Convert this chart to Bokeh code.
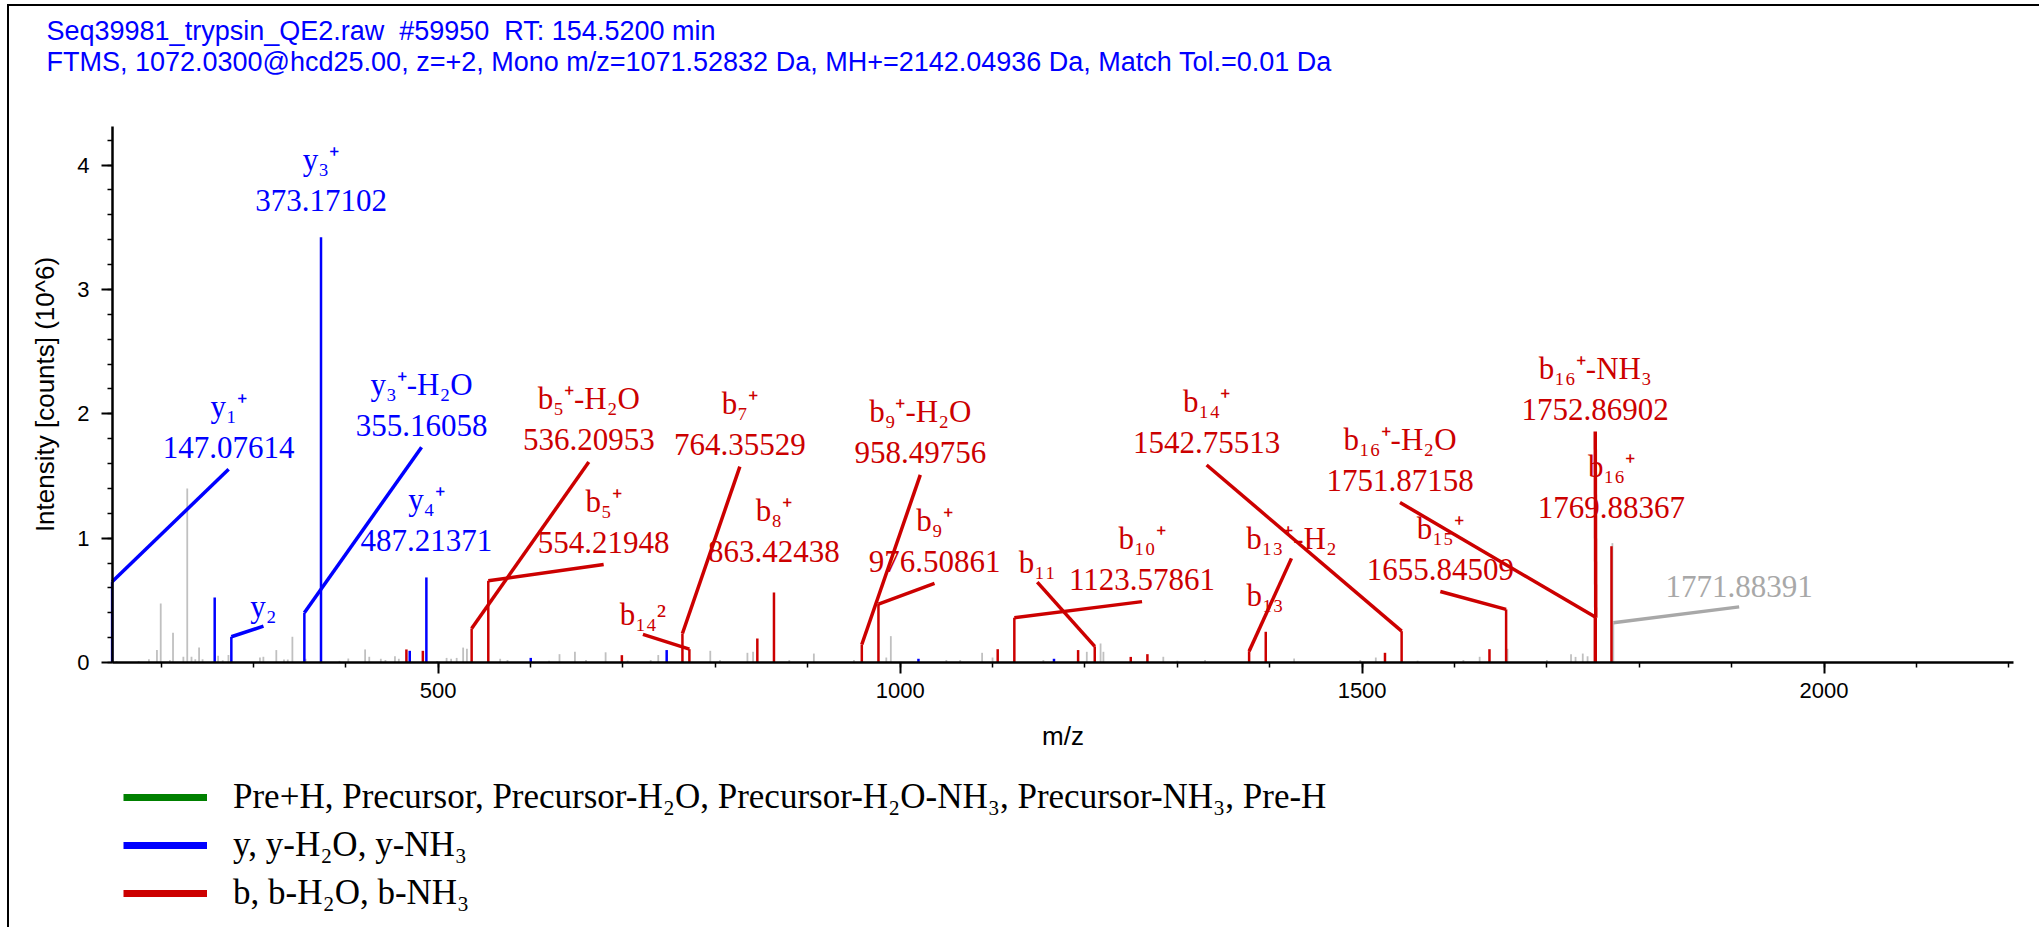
from bokeh.plotting import figure
from bokeh.models import (ColumnDataSource, Label, Legend, LegendItem,
                          SingleIntervalTicker)
from bokeh.core.properties import value
from bokeh.embed import file_html
from bokeh.resources import INLINE

# ---------------- data (intensity in 10^6 counts) ----------------
title_line1 = "Seq39981_trypsin_QE2.raw\u00a0 #59950\u00a0 RT: 154.5200 min"
title_line2 = ("FTMS, 1072.0300@hcd25.00, z=+2, Mono m/z=1071.52832 Da, "
               "MH+=2142.04936 Da, Match Tol.=0.01 Da")

gray_mz = [151.9, 175.8, 186.9, 195.6, 199.7, 209.6, 213.0, 224.2, 228.4, 233.0,
           237.1, 241.2, 245.0, 261.8, 266.8, 273.0, 307.1, 310.8, 324.8, 333.1,
           337.2, 342.2, 356.5, 393.2, 402.7, 420.9, 425.4, 437.9, 442.9, 453.2,
           457.4, 498.8, 509.1, 514.0, 520.0, 527.0, 531.1, 567.1, 575.0, 620.0,
           631.3, 648.0, 660.0, 681.2, 705.0, 730.0, 738.2, 794.5, 805.0, 834.7,
           840.8, 880.0, 906.6, 950.0, 985.0, 989.9, 1050.0, 1065.0, 1088.7, 1100.0,
           1155.0, 1202.0, 1216.9, 1220.0, 1284.8, 1300.0, 1330.0, 1426.4, 1498.0,
           1514.8, 1560.0, 1609.6, 1627.2, 1657.3, 1700.0, 1726.1, 1731.0, 1738.8,
           1744.0, 1770.88, 1771.88391]
gray_int = [0.013, 0.013, 0.027, 0.10, 0.475, 0.02, 0.24, 0.046, 1.40, 0.046,
            0.027, 0.12, 0.027, 0.054, 0.019, 0.06, 0.04, 0.046, 0.10, 0.024,
            0.024, 0.207, 0.03, 0.013, 0.032, 0.105, 0.046, 0.03, 0.02, 0.05,
            0.03, 0.013, 0.037, 0.03, 0.037, 0.12, 0.11, 0.03, 0.02, 0.015,
            0.067, 0.086, 0.02, 0.082, 0.015, 0.02, 0.06, 0.094, 0.02, 0.078,
            0.086, 0.02, 0.072, 0.02, 0.04, 0.212, 0.02, 0.02, 0.078, 0.04,
            0.02, 0.086, 0.153, 0.086, 0.046, 0.015, 0.02, 0.032, 0.02,
            0.04, 0.015, 0.02, 0.046, 0.11, 0.02, 0.067, 0.045, 0.072,
            0.05, 0.96, 0.319]

y_mz = [147.07614, 258.11, 276.12, 355.16058, 373.17102, 469.20, 487.21371,
        600.2, 747.3, 1019.8, 1166.5]
y_int = [0.65, 0.523, 0.207, 0.40, 3.42, 0.094, 0.684, 0.037, 0.10, 0.03, 0.03]

b_mz = [465.6, 483.4, 536.20953, 554.21948, 698.8, 764.35529, 771.88, 845.41,
        863.42438, 958.49756, 976.50861, 1105.57, 1123.57861, 1192.60, 1210.61,
        1249.6, 1267.6, 1377.68, 1395.69, 1524.74, 1542.75513, 1637.83,
        1655.84509, 1751.87158, 1752.86902, 1769.88367]
b_int = [0.105, 0.094, 0.274, 0.657, 0.059, 0.233, 0.107, 0.193,
         0.563, 0.145, 0.47, 0.107, 0.36, 0.10, 0.13,
         0.045, 0.067, 0.091, 0.247, 0.078, 0.252, 0.107,
         0.427, 0.367, 0.36, 0.935]

# annotations: first line, second line, annotated peak m/z
ann_text1 = ["y₁⁺", "y₃⁺", "y₃⁺-H₂O", "y₄⁺", "y₂", "b₅⁺-H₂O", "b₅⁺", "b₁₄²",
             "b₇⁺", "b₈⁺", "b₉⁺-H₂O", "b₉⁺", "b₁₁", "b₁₀⁺", "b₁₄⁺", "b₁₃⁺-H₂",
             "b₁₃", "b₁₅⁺", "b₁₆⁺-H₂O", "b₁₆⁺-NH₃", "b₁₆⁺", "1771.88391"]
ann_text2 = ["147.07614", "373.17102", "355.16058", "487.21371", "", "536.20953",
             "554.21948", "", "764.35529", "863.42438", "958.49756", "976.50861",
             "", "1123.57861", "1542.75513", "", "", "1655.84509", "1751.87158",
             "1752.86902", "1769.88367", ""]
ann_peak = [147.07614, 373.17102, 355.16058, 487.21371, 276.12, 536.20953,
            554.21948, 771.88, 764.35529, 863.42438, 958.49756, 976.50861,
            1210.61, 1123.57861, 1542.75513, 1377.68, 1395.69, 1655.84509,
            1751.87158, 1752.86902, 1769.88367, 1771.88391]
ann_leader = [1, 0, 1, 0, 1, 1, 1, 1, 1, 0, 1, 1, 1, 1, 1, 1, 0, 1, 1, 1, 0, 1]

legend_labels = ["Pre+H, Precursor, Precursor-H₂O, Precursor-H₂O-NH₃, Precursor-NH₃, Pre-H",
                 "y, y-H₂O, y-NH₃",
                 "b, b-H₂O, b-NH₃"]

# layout of the annotation labels (centre of first text line, data units)
label_x = [273.2, 373.17, 482.0, 487.2, 310.9, 663.0, 679.1, 721.6, 826.5, 863.4,
           1021.8, 1037.2, 1148.4, 1261.8, 1331.7, 1423.5, 1395.0, 1584.6, 1541.0,
           1752.3, 1769.9, 1908.1]
label_y = [2.06, 4.047, 2.238, 1.309, 0.453, 2.119, 1.295, 0.387, 2.082, 1.223,
           2.015, 1.143, 0.807, 0.996, 2.095, 0.998, 0.542, 1.078, 1.793, 2.364,
           1.573, 0.608]

# ---------------- styles / layout ----------------
BLUE = "#0000FF"
RED = "#CC0000"
GREEN = "#008000"
GRAY = "#C0C0C0"
GRAY_TXT = "#A8A8A8"
SERIF = "Liberation Serif"
SANS = "Liberation Sans"

AX_X0, AX_X1 = 147.5, 2205.0     # extent of the x axis (m/z)
AX_Y0, AX_Y1 = 0.0, 4.31         # extent of the y axis (10^6 counts)

W, H = 2032, 923                 # canvas size
OX, OY = 9, 6                    # canvas origin on the page
PLOT_L, PLOT_R, PLOT_T, PLOT_B = 112, 2013, 126, 662   # axis box on the page
KX = (PLOT_R - PLOT_L) / (AX_X1 - AX_X0)
KY = (PLOT_B - PLOT_T) / (AX_Y1 - AX_Y0)
x_start = AX_X0 - (PLOT_L - OX) / KX
x_end = AX_X0 + (OX + W - PLOT_L) / KX
y_end = AX_Y0 + (PLOT_B - OY) / KY
y_start = AX_Y0 - (OY + H - PLOT_B) / KY

p = figure(width=W, height=H, x_range=(x_start, x_end), y_range=(y_start, y_end),
           output_backend="svg", toolbar_location=None,
           min_border_left=0, min_border_right=0,
           min_border_top=0, min_border_bottom=0)
p.outline_line_color = None
p.xgrid.visible = False
p.ygrid.visible = False
p.background_fill_color = "white"
p.border_fill_color = "white"
p.styles = {"border-left": "2px solid #000", "border-top": "2px solid #000",
            "margin-left": "7px", "margin-top": "4px"}

# axes, fixed at the data origin and bounded to the axis box
p.xaxis.ticker = SingleIntervalTicker(interval=500, num_minor_ticks=5)
p.yaxis.ticker = SingleIntervalTicker(interval=1, num_minor_ticks=5)
p.xaxis.fixed_location = AX_Y0
p.yaxis.fixed_location = AX_X0
p.xaxis.bounds = (AX_X0, AX_X1)
p.yaxis.bounds = (AX_Y0, AX_Y1)
p.xaxis.axis_label = "m/z"
p.yaxis.axis_label = "Intensity [counts] (10^6)"
for ax in (p.xaxis[0], p.yaxis[0]):
    ax.axis_line_width = 2.5
    ax.axis_line_color = "black"
    ax.major_tick_line_width = 2
    ax.minor_tick_line_width = 1.5
    ax.major_tick_out = 11
    ax.major_tick_in = 0
    ax.minor_tick_out = 5
    ax.minor_tick_in = 0
    ax.major_label_text_font = SANS
    ax.major_label_text_font_size = "22px"
    ax.major_label_text_color = "black"
    ax.axis_label_text_font = SANS
    ax.axis_label_text_font_size = "26px"
    ax.axis_label_text_font_style = "normal"
    ax.axis_label_text_color = "black"
p.xaxis.major_label_standoff = 9
p.xaxis.axis_label_standoff = 20
p.yaxis.major_label_standoff = 12
p.yaxis.axis_label_standoff = 14

# title (two lines, upper left)
tx = AX_X0 + (46 - PLOT_L) / KX
for txt, ty_px in ((title_line1, 30), (title_line2, 61)):
    p.add_layout(Label(x=tx, y=AX_Y0 + (PLOT_B - ty_px) / KY, text=txt,
                       text_font=SANS, text_font_size="27px", text_color=BLUE,
                       text_align="left", text_baseline="middle"))

# peaks
p.segment(x0=gray_mz, y0=[0] * len(gray_mz), x1=gray_mz, y1=gray_int,
          line_color=GRAY, line_width=1.8)
p.segment(x0=y_mz, y0=[0] * len(y_mz), x1=y_mz, y1=y_int,
          line_color=BLUE, line_width=2.5)
p.segment(x0=b_mz, y0=[0] * len(b_mz), x1=b_mz, y1=b_int,
          line_color=RED, line_width=2.5)

# annotation colours / intensities from the peak lists
lookup = {}
colour_of = {}
for m, v in zip(gray_mz, gray_int):
    lookup[m] = v
    colour_of[m] = GRAY_TXT
for m, v in zip(y_mz, y_int):
    lookup[m] = v
    colour_of[m] = BLUE
for m, v in zip(b_mz, b_int):
    lookup[m] = v
    colour_of[m] = RED
ann_int = [lookup[m] for m in ann_peak]
ann_color = [colour_of[m] for m in ann_peak]

LINE_GAP = 41 / KY        # distance between first and second text line
LEAD2 = 63 / KY           # leader start below a two-line label
LEAD1 = 20 / KY           # leader start below a one-line label

lx0, ly0, lx1, ly1, lc = [], [], [], [], []
for i in range(len(ann_peak)):
    if ann_leader[i]:
        lx0.append(label_x[i])
        ly0.append(label_y[i] - (LEAD2 if ann_text2[i] else LEAD1))
        lx1.append(ann_peak[i])
        ly1.append(ann_int[i])
        lc.append(ann_color[i])
p.segment(x0=lx0, y0=ly0, x1=lx1, y1=ly1, line_color=lc, line_width=3.5)

src1 = ColumnDataSource(dict(x=label_x, y=label_y, t=ann_text1, c=ann_color))
p.text(x="x", y="y", text="t", text_color="c", source=src1,
       text_font=value(SERIF), text_font_size=value("31px"),
       text_align="center", text_baseline="middle")
src2 = ColumnDataSource(dict(x=label_x, y=[v - LINE_GAP for v in label_y],
                             t=ann_text2, c=ann_color))
p.text(x="x", y="y", text="t", text_color="c", source=src2,
       text_font=value(SERIF), text_font_size=value("31px"),
       text_align="center", text_baseline="middle")

# legend below the axis box (location = bottom-left corner, from frame bottom)
ROW_H, ROW_GAP = 40, 8
LEG_TOP = 777
leg_h = 3 * ROW_H + 2 * ROW_GAP
nan = float("nan")
rg = p.line(x=[nan], y=[nan], line_color=GREEN, line_width=7)
rb = p.line(x=[nan], y=[nan], line_color=BLUE, line_width=7)
rr = p.line(x=[nan], y=[nan], line_color=RED, line_width=7)
legend = Legend(items=[LegendItem(label=legend_labels[0], renderers=[rg]),
                       LegendItem(label=legend_labels[1], renderers=[rb]),
                       LegendItem(label=legend_labels[2], renderers=[rr])],
                location=(123 - OX, OY + H - (LEG_TOP + leg_h)),
                orientation="vertical",
                glyph_width=84, glyph_height=ROW_H, label_height=ROW_H,
                label_standoff=26, spacing=ROW_GAP, padding=0, margin=0,
                border_line_color=None, background_fill_alpha=0,
                label_text_font=SERIF, label_text_font_size="35px",
                label_text_baseline="middle", label_text_color="black")
p.add_layout(legend)

open("out.html", "w").write(file_html(p, INLINE))
